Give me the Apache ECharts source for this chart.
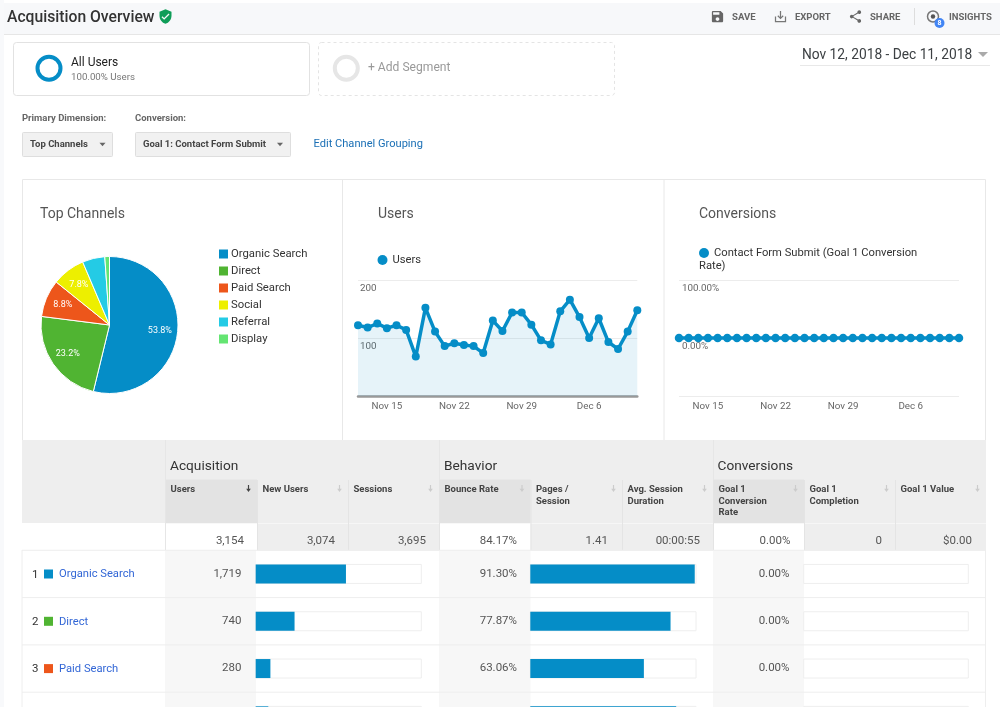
<!DOCTYPE html>
<html><head><meta charset="utf-8">
<style>html,body{margin:0;padding:0;background:#fff}#c{width:1000px;height:707px}</style>
<script src="https://cdn.jsdelivr.net/npm/echarts@6/dist/echarts.min.js"></script>
</head><body><div id="c"></div>
<script>
// ---- data ----
const channels = ['Organic Search','Direct','Paid Search','Social','Referral','Display'];
const channelShare = [53.8,23.2,8.8,7.8,5.3,1.1];
const channelColors = ['#058dc7','#50b432','#ed561b','#edef00','#24cbe5','#64e572'];
const days = ['Nov 12','Nov 13','Nov 14','Nov 15','Nov 16','Nov 17','Nov 18','Nov 19','Nov 20','Nov 21','Nov 22','Nov 23','Nov 24','Nov 25','Nov 26','Nov 27','Nov 28','Nov 29','Nov 30','Dec 1','Dec 2','Dec 3','Dec 4','Dec 5','Dec 6','Dec 7','Dec 8','Dec 9','Dec 10','Dec 11'];
const users = [122,118,125,117,122,114,68,152,111,86,91,88,86,74,130,112,144,144,123,96,89,146,166,136,100,134,93,81,111,148];
const conversionRate = [0,0,0,0,0,0,0,0,0,0,0,0,0,0,0,0,0,0,0,0,0,0,0,0,0,0,0,0,0,0];
const rowNames = ['Organic Search','Direct','Paid Search','Social'];
const rowUsers = [1719,740,280,240];
const rowBounce = [91.30,77.87,63.06,81.0];
const rowCompletion = [0,0,0,0];
const rowRate = ['0.00%','0.00%','0.00%'];
const totalUsers = 3154;
const columnHeads = ['Users','New Users','Sessions','Bounce Rate','Pages /\nSession','Avg. Session\nDuration','Goal 1\nConversion\nRate','Goal 1\nCompletion','Goal 1 Value'];
const columnTotals = ['3,154','3,074','3,695','84.17%','1.41','00:00:55','0.00%','0','$0.00'];
const groupHeads = ['Acquisition','Behavior','Conversions'];

// ---- page furniture ----
const F = 'Roboto, sans-serif';
const g = [];
const rect = (x,y,w,h,fill,extra={}) => g.push({type:'rect',silent:true,shape:{x,y,width:w,height:h,r:extra.r||0},style:{fill,stroke:extra.stroke||null,lineWidth:extra.lw||1,lineDash:extra.dash||null}});
const line = (x1,y1,x2,y2,stroke,lw=1) => g.push({type:'line',silent:true,shape:{x1,y1,x2,y2},style:{stroke,lineWidth:lw}});
const text = (x,y,t,size,fill,o={}) => g.push({type:'text',silent:true,x,y:o.v?y:y+3,style:{text:t,fontSize:size,fill,fontFamily:F,fontWeight:o.w||400,align:o.a||'left',verticalAlign:o.v||'middle',lineHeight:o.lh||undefined}});
const iconShapes = {};
const icon = (d,x,y,s,fill) => {
  let name = iconShapes[d];
  if (!name) {
    name = 'gaIcon' + Object.keys(iconShapes).length;
    iconShapes[d] = name;
    echarts.graphic.registerShape(name, echarts.graphic.extendPath(d, {}));
  }
  g.push({type:name,silent:true,x,y,scaleX:s/24,scaleY:s/24,style:{fill}});
};
const tri = (x,y,w,h,fill) => g.push({type:'polygon',silent:true,shape:{points:[[x-w/2,y-h/2],[x+w/2,y-h/2],[x,y+h/2]]},style:{fill}});
const ring = (x,y,r,lw,stroke) => g.push({type:'circle',silent:true,shape:{cx:x,cy:y,r},style:{fill:'none',stroke,lineWidth:lw}});

rect(0,0,4,707,'#f8f9fb');
rect(4,3,996,31,'#f7f8fa');
line(4,34.5,1000,34.5,'#e6e6e6');
text(7,15,'Acquisition Overview',15.7,'#333',{w:500});
icon('M12 1L3 5v6c0 5.55 3.84 10.74 9 12 5.16-1.26 9-6.45 9-12V5l-9-4zm-2 16l-4-4 1.41-1.41L10 14.17l6.59-6.59L18 9l-8 8z',157.5,8.5,16,'#0f9d58');
icon('M17 3H5c-1.11 0-2 .9-2 2v14c0 1.1.89 2 2 2h14c1.1 0 2-.9 2-2V7l-4-4zm-5 16c-1.66 0-3-1.34-3-3s1.34-3 3-3 3 1.34 3 3-1.34 3-3 3zm3-10H5V5h10v4z',710,9,15,'#666');
text(732,15,'SAVE',9.6,'#666',{w:700});
icon('M19 12v7H5v-7H3v9h18v-9h-2zm-6 .67l2.59-2.58L17 11.5l-5 5-5-5 1.41-1.41L11 12.67V3h2v9.67z',773,9,15,'#777');
text(795,15,'EXPORT',9.5,'#666',{w:700});
icon('M18 16.08c-.76 0-1.44.3-1.96.77L8.91 12.7c.05-.23.09-.46.09-.7s-.04-.47-.09-.7l7.05-4.11c.54.5 1.25.81 2.04.81 1.66 0 3-1.34 3-3s-1.34-3-3-3-3 1.34-3 3c0 .24.04.47.09.7L8.04 9.81C7.5 9.31 6.79 9 6 9c-1.66 0-3 1.34-3 3s1.34 3 3 3c.79 0 1.5-.31 2.04-.81l7.12 4.16c-.05.21-.08.43-.08.65 0 1.61 1.31 2.92 2.92 2.92 1.61 0 2.92-1.31 2.92-2.92s-1.31-2.92-2.92-2.92z',848,9,15,'#666');
text(870,15,'SHARE',9.5,'#666',{w:700});
line(914.5,8,914.5,25,'#ddd');
ring(933,16.5,5.5,1.5,'#777');
g.push({type:'circle',silent:true,shape:{cx:933,cy:16.5,r:2.2},style:{fill:'#555'}});
g.push({type:'circle',silent:true,shape:{cx:939.5,cy:23,r:5},style:{fill:'#4285f4'}});
text(939.5,20.2,'8',7,'#fff',{a:'center',w:700});
text(949,15,'INSIGHTS',9.5,'#666',{w:700});

rect(13.5,42.5,296,53,'#fff',{stroke:'#e2e2e2',r:3});
ring(49,68.3,11.5,4,'#058dc7');
text(71,60,'All Users',12,'#222');
text(71,74.5,'100.00% Users',9.7,'#777');
rect(318.5,42.5,296,53,'#fff',{stroke:'#e4e4e4',r:3,dash:[3,3]});
ring(346.3,68.3,11.5,4,'#e6e6e6');
text(368,65,'+ Add Segment',12.1,'#999');
text(802,52.5,'Nov 12, 2018 - Dec 11, 2018',13.75,'#3c4043');
tri(983,54.5,10,5,'#aaa');
line(800,65.5,990,65.5,'#e8e8e8');

text(22,116,'Primary Dimension:',9.5,'#666',{w:700});
text(135,116,'Conversion:',9.5,'#666',{w:700});
rect(22.5,132.5,90,24,'#f1f1f1',{stroke:'#dedede',r:1});
text(30,141.5,'Top Channels',9.5,'#444',{w:700});
tri(102.5,144.5,6,3.5,'#666');
rect(135.5,132.5,155,24,'#f1f1f1',{stroke:'#dedede',r:1});
text(143,141.5,'Goal 1: Contact Form Submit',9.5,'#444',{w:700});
tri(280,144.5,6,3.5,'#666');
text(313.5,141.5,'Edit Channel Grouping',11.1,'#1a6fb5');

// dashboard panels
rect(22.5,179.5,963,261,'#fff',{stroke:'#e8e8e8'});
line(342.5,179.5,342.5,440,'#e8e8e8');
line(664,179.5,664,440,'#e8e8e8');
text(40,211,'Top Channels',14,'#555');
text(378,211,'Users',14,'#555');
text(699,211,'Conversions',14,'#555');
text(699,263.5,'Rate)',11.2,'#333');

// table shell
const colX = [165,257,348,439,530.5,622,713,804,895,986];
const sorted = [0,3,6];
const rowTop = i => 550.3 + i*47.3;
rect(22,440,964,83,'#eee');
rect(22,523,143,27.3,'#fff');
colX.slice(0,-1).forEach((x,i)=>{
  const w = colX[i+1]-x, hot = sorted.includes(i);
  if (hot) rect(x,479.5,w,44,'#e3e3e3');
  rect(x,523.5,w,27,hot?'#fff':'#eee');
  if (i>0) line(x+.5,480,x+.5,550,'#e4e4e4',1);
  const lines = columnHeads[i];
  text(x+5.5,484.3,lines,9.5,'#444',{w:700,v:'top',lh:11.3});
  const right = [244,335,426,517,608,700,790.3,882,972][i];
  text(right,538.5,columnTotals[i],11.5,'#555',{a:'right'});
  icon('M10 0h4v13h6L12 24 4 13h6z',x+w-12,485,7,i===0?'#444':'#ccc');
});
line(165.5,440,165.5,550,'#e6e6e6');
line(439.5,440,439.5,480,'#e6e6e6');
line(713.5,440,713.5,480,'#e6e6e6');
text(170,464,groupHeads[0],13.7,'#333');
text(444,464,groupHeads[1],13.7,'#333');
text(717.5,464,groupHeads[2],13.7,'#333');
[[165,256],[439,530.5],[713,804]].forEach(([a,b])=>rect(a,550.5,b-a,157,'#f7f7f7'));
line(22,707,22,550,'#eee');
line(985.5,550,985.5,707,'#eee');
for (let i=0;i<4;i++) line(22,rowTop(i),986,rowTop(i),'#eee');
for (let i=0;i<3;i++) {
  const cy = rowTop(i)+23.7;
  text(32,cy-2,String(i+1),11.5,'#333');
  rect(44,cy-4.5,9,9,channelColors[i]);
  text(59,cy-2.5,rowNames[i],11.2,'#3367d6');
  text(241.5,cy-3,rowUsers[i].toLocaleString('en-US'),11.5,'#555',{a:'right'});
  text(517,cy-3,rowBounce[i].toFixed(2)+'%',11.5,'#555',{a:'right'});
  text(789.5,cy-3,rowRate[i],11.5,'#555',{a:'right'});
}

// ---- chart ----
const tableGrid = (left,width)=>({left,width,top:550.3,height:189.2,outerBoundsMode:'none'});
const barX = max => ({type:'value',min:0,max,show:false});
const lineLabel = {fontSize:9.8,color:'#666',fontFamily:F};
const xLine = (gridIndex,lineColor,lineWidth)=>({type:'category',gridIndex,data:days,boundaryGap:false,
  axisTick:{show:false},axisLine:{show:true,lineStyle:{color:lineColor,width:lineWidth}},splitLine:{show:false},
  axisLabel:{...lineLabel,margin:5.5,interval:i=>i%7===3,formatter:v=>v}});
const yLine = (gridIndex,min,max,formatter,margin)=>({type:'value',gridIndex,min,max,interval:100,
  axisLine:{show:false},axisTick:{show:false},splitLine:{lineStyle:{color:'#ececec'}},
  axisLabel:{...lineLabel,inside:true,margin,verticalAlign:'top',align:'left',lineHeight:17,formatter}});
const barSeries = (name,values,xi)=>({type:'bar',name,xAxisIndex:xi,yAxisIndex:xi,data:values,barWidth:19,silent:true,
  itemStyle:{color:'#058dc7'},showBackground:true,backgroundStyle:{color:'#fff',borderColor:'#eeeeee',borderWidth:1},z:3});
const pieBase = {type:'pie',center:[109.5,325],startAngle:90,silent:true,clockwise:true};

const chart = echarts.init(document.getElementById('c'),null,{renderer:'canvas'});
chart.setOption({
  animation:false,
  backgroundColor:'#fff',
  textStyle:{fontFamily:F},
  color:channelColors,
  graphic:{elements:g},
  legend:[
    {data:channels,orient:'vertical',left:217,top:247.5,itemWidth:11,itemHeight:11,itemGap:4,icon:'rect',selectedMode:false,padding:0,
      textStyle:{fontSize:11.3,color:'#333',fontFamily:F,padding:[0,0,0,-3]}},
    {data:['Users'],left:377.5,top:254.5,itemWidth:10,itemHeight:10,icon:'circle',selectedMode:false,padding:0,
      textStyle:{fontSize:11.2,color:'#333',fontFamily:F}},
    {data:['Contact Form Submit (Goal 1 Conversion Rate)'],left:699,top:247.5,itemWidth:10,itemHeight:10,icon:'circle',selectedMode:false,padding:0,
      formatter:()=>'Contact Form Submit (Goal 1 Conversion',textStyle:{fontSize:11.2,color:'#333',fontFamily:F}}
  ],
  grid:[
    {left:358,width:279.3,top:280,height:116},
    {left:679,width:280,top:280,height:116},
    tableGrid(255.7,165.6),
    tableGrid(530.3,165.7),
    tableGrid(803.7,164.6)
  ],
  xAxis:[xLine(0,'#999',2.5),xLine(1,'#ececec',1),
    {...barX(totalUsers),gridIndex:2},{...barX(92),gridIndex:3},{...barX(1),gridIndex:4}],
  yAxis:[yLine(0,0,200,v=>v===0?'':String(v),2),
    yLine(1,-100,100,v=>v<0?'':v.toFixed(2)+'%',3),
    ...[2,3,4].map(gridIndex=>({type:'category',gridIndex,inverse:true,data:rowNames,show:false}))],
  series:[
    {...pieBase,radius:[0,68.5],data:channels.map((name,i)=>({name,value:channelShare[i]})),
      itemStyle:{borderColor:'#fff',borderWidth:1},label:{show:false},labelLine:{show:false}},
    {...pieBase,radius:[27,68.5],name:'labels',z:3,data:channels.map((name,i)=>({name,value:channelShare[i]})),
      itemStyle:{color:'rgba(0,0,0,0)'},labelLine:{show:false},
      label:{position:'inside',color:'#fff',fontSize:9,fontFamily:F,formatter:p=>p.value>=7?p.value.toFixed(1)+'%':''}},
    {type:'line',name:'Users',xAxisIndex:0,yAxisIndex:0,data:users,color:'#058dc7',clip:false,silent:true,
      symbol:'circle',symbolSize:8,showAllSymbol:true,lineStyle:{width:3.5,color:'#058dc7'},itemStyle:{color:'#058dc7'},
      areaStyle:{color:'#058dc7',opacity:.1},z:4},
    {type:'line',name:'Contact Form Submit (Goal 1 Conversion Rate)',xAxisIndex:1,yAxisIndex:1,data:conversionRate,color:'#058dc7',clip:false,silent:true,
      symbol:'circle',symbolSize:8.5,showAllSymbol:true,lineStyle:{width:3.5,color:'#058dc7'},itemStyle:{color:'#058dc7'},z:4},
    barSeries('Users share',rowUsers,2),
    barSeries('Bounce Rate',rowBounce,3),
    barSeries('Goal 1 Completion',rowCompletion,4)
  ]
});
</script></body></html>
